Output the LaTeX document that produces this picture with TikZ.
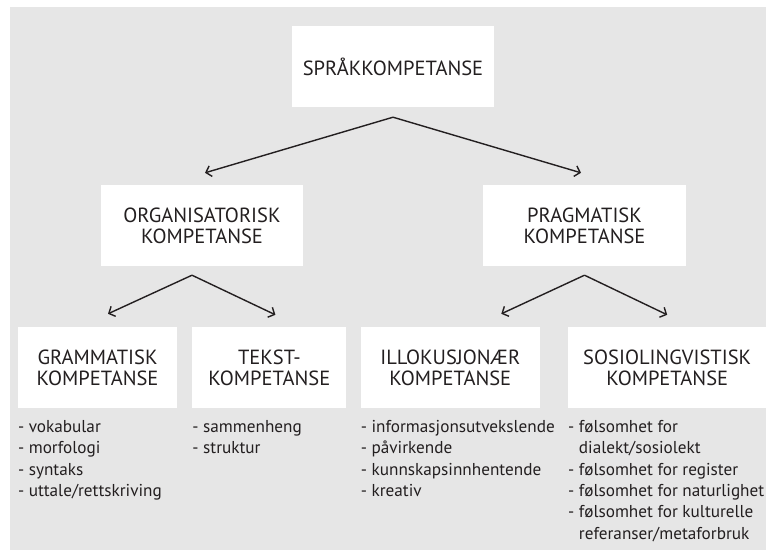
\documentclass[tikz,border=0pt]{standalone}
\usepackage{fontspec}
\setmainfont{PT Sans}
\usetikzlibrary{arrows.meta, positioning}
\definecolor{panel}{HTML}{E6E6E6}
\definecolor{ink}{HTML}{231F20}

\begin{document}
\begin{tikzpicture}[
  x=1pt, y=-1pt,
  box/.style={
    rectangle,
    fill=white,
    align=center,
    minimum height=81pt,
    inner sep=0pt,
    text=ink,
    font=\fontsize{20.5}{21}\selectfont
  },
  list/.style={
    anchor=north west,
    align=left,
    inner sep=0pt,
    text=ink,
    font=\fontsize{17.2}{21.3}\selectfont
  },
  arrow/.style={-{Straight Barb[length=5pt, width=11pt]}, line width=1.4pt, draw=ink}
]
\useasboundingbox (0,0) rectangle (766,550);
\fill[panel] (10,7) rectangle (766,550);

\node[box, minimum width=202pt] (top) at (393,66.5) {SPRÅKKOMPETANSE};
\node[box, minimum width=202pt] (org) at (202,225.5) {ORGANISATORISK\\KOMPETANSE};
\node[box, minimum width=203pt] (prag) at (584.5,225.5) {PRAGMATISK\\KOMPETANSE};
\node[box, minimum width=159pt] (gram) at (97.5,367.5) {GRAMMATISK\\KOMPETANSE};
\node[box, minimum width=154pt, right=15pt of gram] (tekst) {TEKST-\\KOMPETANSE};
\node[box, minimum width=179pt, right=14pt of tekst] (illo) {ILLOKUSJONÆR\\KOMPETANSE};
\node[box, minimum width=198pt, right=28pt of illo] (sosio) {SOSIOLINGVISTISK\\KOMPETANSE};

\node[list] (gramlist) at ([yshift=-12pt]gram.south west) {- vokabular\\- morfologi\\- syntaks\\- uttale/rettskriving};
\node[list] (tekstlist) at ([yshift=-12pt]tekst.south west) {- sammenheng\\- struktur};
\node[list] (illolist) at ([yshift=-12pt]illo.south west) {- informasjonsutvekslende\\- påvirkende\\- kunnskapsinnhentende\\- kreativ};
\node[list] (sosiolist) at ([yshift=-12pt]sosio.south west) {- følsomhet for\\\hphantom{- }dialekt/sosiolekt\\- følsomhet for register\\- følsomhet for naturlighet\\- følsomhet for kulturelle\\\hphantom{- }referanser/metaforbruk};

\coordinate (topfork) at ([yshift=-10pt]top.south);
\coordinate (orgfork) at ([xshift=-10pt, yshift=-9pt]org.south);
\coordinate (pragfork) at ([yshift=-9pt]prag.south);

\draw[arrow] (topfork) -- ([xshift=3pt, yshift=12pt]org.north);
\draw[arrow] (topfork) -- ([xshift=-3.5pt, yshift=12pt]prag.north);
\draw[arrow] (orgfork) -- ([xshift=10.5pt, yshift=13pt]gram.north);
\draw[arrow] (orgfork) -- ([xshift=6pt, yshift=12pt]tekst.north);
\draw[arrow] (pragfork) -- ([xshift=51pt, yshift=13pt]illo.north);
\draw[arrow] (pragfork) -- ([yshift=12pt]sosio.north);
\end{tikzpicture}
\end{document}
